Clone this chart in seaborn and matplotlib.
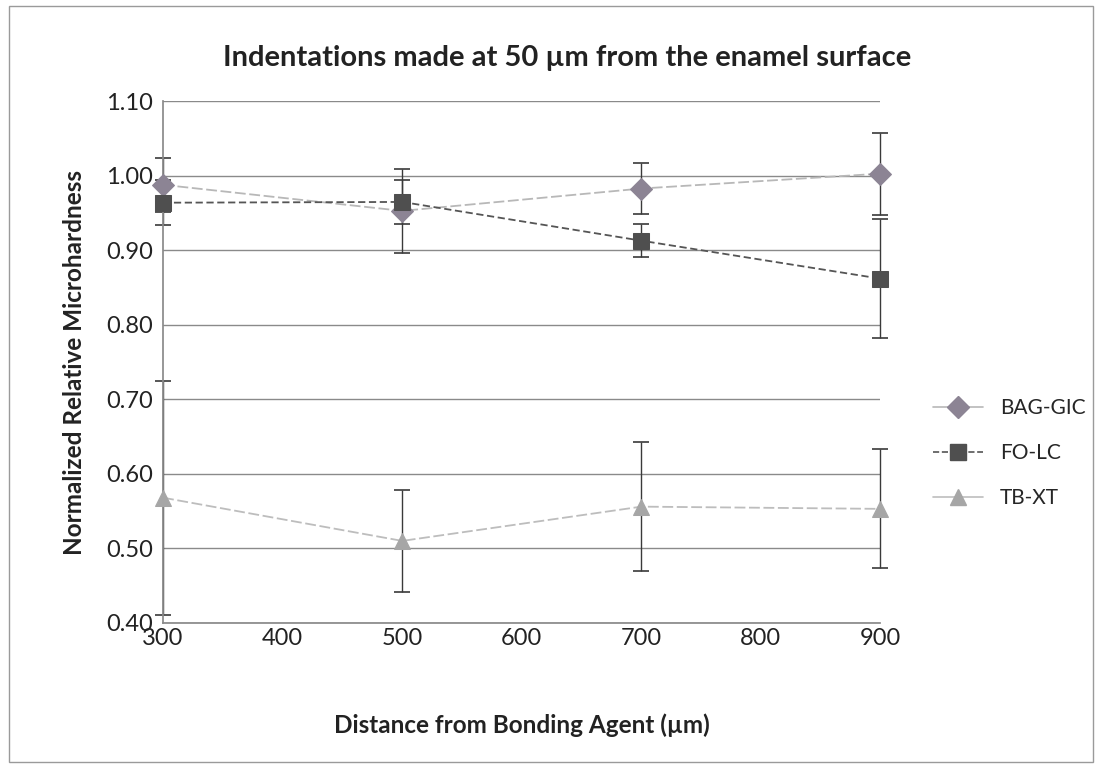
import matplotlib
matplotlib.use("Agg")
import matplotlib.pyplot as plt
import seaborn as sns
import pandas as pd
from matplotlib.patches import Rectangle
from matplotlib.lines import Line2D

distance = [300, 500, 700, 900]
series_names = ["BAG-GIC", "FO-LC", "TB-XT"]
bag_gic = [0.988, 0.953, 0.983, 1.003]
bag_gic_err = [0.036, 0.056, 0.034, 0.055]
fo_lc = [0.964, 0.965, 0.913, 0.862]
fo_lc_err = [0.030, 0.030, 0.022, 0.080]
tb_xt = [0.568, 0.510, 0.556, 0.553]
tb_xt_err = [0.157, 0.069, 0.087, 0.080]

values = [bag_gic, fo_lc, tb_xt]
errors = [bag_gic_err, fo_lc_err, tb_xt_err]

rows = []
for name, vals in zip(series_names, values):
    for d, v in zip(distance, vals):
        rows.append({"Distance": d, "Hardness": v, "Series": name})
df = pd.DataFrame(rows)

sns.set_theme(style="white")
plt.rcParams['font.family'] = ['Lato', 'DejaVu Sans']

fig = plt.figure(figsize=(11.02, 7.68), dpi=100)
ax = fig.add_axes([0.148, 0.189, 0.651, 0.679])

palette = {"BAG-GIC": "#8c8494", "FO-LC": "#4f4f4f", "TB-XT": "#a6a6a6"}
line_colors = {"BAG-GIC": "#b8b8b8", "FO-LC": "#555555", "TB-XT": "#bdbdbd"}
markers = {"BAG-GIC": "D", "FO-LC": "s", "TB-XT": "^"}
dashes = {"BAG-GIC": (6, 2), "FO-LC": (4, 2), "TB-XT": (6, 2)}

for name, vals, errs in zip(series_names, values, errors):
    eb = ax.errorbar(distance, vals, yerr=errs, fmt="none", ecolor="#3a3a3a",
                     elinewidth=1.0, capsize=6, capthick=1.2, zorder=2)
    for art in eb.lines[1] + eb.lines[2]:
        art.set_clip_on(False)

sns.lineplot(data=df, x="Distance", y="Hardness", hue="Series", style="Series",
             palette=line_colors, markers=markers, dashes=dashes, ax=ax,
             linewidth=1.3, markersize=11, zorder=3, legend=False)

for line, name in zip(ax.get_lines()[-3:], series_names):
    line.set_markerfacecolor(palette[name])
    line.set_markeredgecolor(palette[name])
    line.set_clip_on(False)

ax.set_xlim(300, 900)
ax.set_ylim(0.40, 1.10)
ax.set_xticks(range(300, 1000, 100))
ax.set_yticks([0.40, 0.50, 0.60, 0.70, 0.80, 0.90, 1.00, 1.10])
ax.set_yticklabels([f"{t:.2f}" for t in ax.get_yticks()])
ax.tick_params(axis="both", labelsize=17, colors="#222222", length=4,
               direction="out", width=0.8)
ax.tick_params(axis="x", pad=0)
ax.yaxis.grid(True, color="#8a8a8a", linewidth=1.0)
ax.set_axisbelow(True)
for side in ["top", "right"]:
    ax.spines[side].set_visible(False)
ax.spines["left"].set_color("#8a8a8a")
ax.spines["bottom"].set_color("#8a8a8a")

ax.set_xlabel("Distance from Bonding Agent (µm)", fontsize=17.5, fontweight="bold",
              color="#222222", labelpad=46)
ax.set_ylabel("Normalized Relative Microhardness", fontsize=17.5, fontweight="bold",
              color="#222222", labelpad=14)
fig.text(0.515, 0.925, "Indentations made at 50 µm from the enamel surface",
         ha="center", va="center", fontsize=21, fontweight="bold", color="#222222")

handles = [Line2D([0], [0], color=line_colors[n], linestyle="-" if n != "FO-LC" else "--",
                  linewidth=1.2, marker=markers[n], markersize=11,
                  markerfacecolor=palette[n], markeredgecolor=palette[n])
           for n in series_names]
fig.legend(handles, series_names, loc="center left", bbox_to_anchor=(0.83, 0.41),
           frameon=False, fontsize=15, labelspacing=1.2, handlelength=2.4)

fig.patches.append(Rectangle((0.008, 0.008), 0.984, 0.984, transform=fig.transFigure,
                             fill=False, edgecolor="#9a9a9a", linewidth=1.0))

fig.savefig("out.png", dpi=100)
